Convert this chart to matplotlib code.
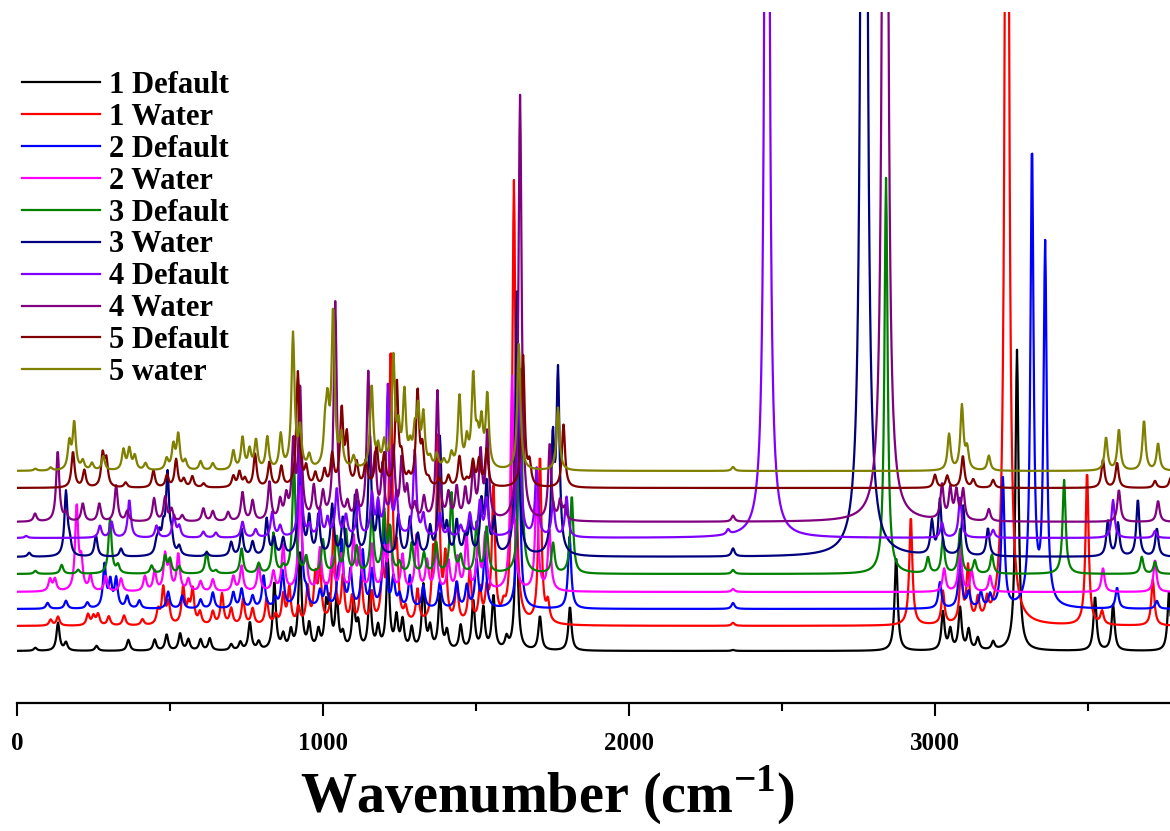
import numpy as np
import matplotlib.pyplot as plt

plt.rcParams['font.family'] = ['Liberation Serif', 'DejaVu Serif']
plt.rcParams['font.weight'] = 'bold'
plt.rcParams['mathtext.fontset'] = 'custom'
plt.rcParams['mathtext.rm'] = 'Liberation Serif:bold'
plt.rcParams['mathtext.bf'] = 'Liberation Serif:bold'

labels = ['1 Default', '1 Water', '2 Default', '2 Water', '3 Default',
          '3 Water', '4 Default', '4 Water', '5 Default', '5 water']
colors = ['#000000', '#ff0000', '#0000ff', '#ff00ff', '#008000',
          '#000080', '#8000ff', '#800080', '#800000', '#808000']
# vertical stacking offset of each trace
offsets = [52, 77, 94, 111, 129, 146, 165, 181, 215, 232]

# peak lists: (wavenumber cm-1, intensity)
black = [(60, 3), (134, 28), (160, 8), (260, 5), (364, 11), (450, 11), (489, 16), (533, 17),
         (560, 11), (600, 11), (630, 12), (700, 6), (730, 8), (761, 28), (790, 8), (841, 68),
         (870, 14), (895, 18), (925, 98), (955, 24), (985, 18), (1010, 41), (1022, 44),
         (1045, 51), (1065, 14), (1100, 46), (1115, 24), (1153, 58), (1180, 21), (1212, 88),
         (1240, 31), (1260, 28), (1290, 21), (1328, 64), (1350, 21), (1382, 54), (1405, 18),
         (1450, 24), (1491, 49), (1524, 41), (1557, 54), (1600, 11), (1632, 130), (1709, 34),
         (1807, 44), (2340, 1), (2873, 94), (3026, 38), (3050, 20), (3082, 42), (3110, 20),
         (3140, 12), (3190, 8), (3268, 301), (3523, 54), (3582, 46), (3765, 60)]
red = [(110, 6), (134, 9), (232, 11), (250, 9), (265, 11), (300, 9), (350, 10), (410, 6),
       (461, 14), (478, 36), (495, 21), (543, 37), (560, 17), (574, 34), (598, 12), (640, 13),
       (670, 31), (700, 16), (739, 26), (770, 16), (816, 26), (845, 9), (870, 29), (890, 36),
       (920, 16), (950, 36), (975, 46), (990, 53), (1035, 100), (1065, 46), (1095, 26),
       (1125, 46), (1160, 29), (1195, 49), (1221, 270), (1241, 63), (1270, 13), (1309, 33),
       (1360, 56), (1376, 179), (1400, 63), (1437, 39), (1480, 53), (1513, 33), (1535, 29),
       (1557, 136), (1590, 11), (1624, 443), (1709, 168), (1735, 19), (2340, 3), (2921, 109),
       (3026, 33), (3085, 50), (3108, 55), (3140, 22), (3170, 18), (3235, 1500), (3497, 154),
       (3546, 13), (3712, 46)]
blue = [(100, 6), (160, 8), (230, 6), (286, 43), (305, 26), (324, 29), (360, 12), (400, 8),
        (494, 17), (540, 13), (600, 9), (640, 16), (707, 16), (734, 19), (770, 12), (806, 32),
        (845, 9), (868, 36), (925, 152), (945, 12), (990, 16), (1010, 22), (1050, 26),
        (1061, 62), (1090, 36), (1130, 56), (1160, 36), (1200, 89), (1230, 29), (1250, 12),
        (1284, 32), (1328, 22), (1382, 26), (1437, 26), (1470, 22), (1502, 46), (1529, 56),
        (1640, 180), (1806, 72), (2340, 6), (3016, 26), (3082, 55), (3110, 15), (3150, 15),
        (3180, 12), (3222, 129), (3317, 460), (3360, 360), (3595, 21), (3725, 8)]
magenta = [(108, 12), (124, 12), (195, 85), (210, 28), (240, 15), (290, 15), (340, 13),
           (418, 15), (450, 20), (484, 35), (498, 25), (527, 37), (560, 12), (600, 10),
           (640, 12), (707, 15), (734, 25), (790, 25), (838, 19), (870, 45), (925, 105),
           (945, 25), (990, 42), (1030, 32), (1060, 35), (1100, 52), (1120, 39), (1160, 45),
           (1200, 39), (1219, 62), (1260, 35), (1306, 55), (1340, 29), (1370, 42), (1410, 29),
           (1440, 32), (1469, 55), (1507, 49), (1530, 55), (1618, 215), (1698, 100),
           (1740, 60), (2340, 3), (3030, 23), (3082, 47), (3120, 20), (3180, 16), (3549, 24),
           (3719, 32)]
green = [(60, 3), (146, 9), (200, 4), (304, 55), (330, 8), (440, 8), (484, 17), (500, 14),
         (530, 7), (620, 22), (650, 3), (734, 25), (790, 10), (838, 40), (870, 6), (905, 110),
         (945, 16), (1000, 33), (1045, 36), (1075, 43), (1110, 26), (1160, 60), (1200, 60),
         (1219, 43), (1250, 10), (1290, 30), (1330, 20), (1370, 30), (1420, 80), (1450, 16),
         (1502, 50), (1535, 46), (1645, 210), (1752, 30), (1813, 78), (2340, 4), (2840, 396),
         (2977, 16), (3026, 35), (3082, 44), (3130, 13), (3186, 19), (3422, 94), (3676, 17),
         (3719, 12)]
navy = [(40, 4), (160, 64), (172, 13), (258, 21), (340, 8), (456, 11), (465, 18), (478, 23),
        (492, 79), (505, 16), (530, 9), (620, 4), (700, 14), (734, 27), (770, 14), (816, 37),
        (840, 17), (870, 17), (925, 127), (955, 37), (985, 40), (1030, 50), (1065, 37),
        (1105, 60), (1153, 120), (1180, 44), (1246, 40), (1284, 37), (1310, 20), (1350, 27),
        (1382, 117), (1405, 27), (1437, 34), (1465, 17), (1480, 30), (1518, 50), (1535, 70),
        (1560, 34), (1634, 264), (1751, 110), (1768, 179), (2340, 8), (2768, 3000),
        (2990, 33), (3016, 55), (3092, 50), (3173, 28), (3565, 36), (3598, 33), (3663, 57),
        (3725, 28)]
violet = [(30, 2), (271, 12), (309, 16), (367, 38), (456, 12), (513, 22), (530, 11), (609, 6),
          (650, 5), (737, 16), (780, 8), (834, 25), (860, 11), (925, 91), (955, 11), (990, 28),
          (1015, 18), (1045, 48), (1075, 21), (1115, 35), (1160, 41), (1180, 31), (1212, 150),
          (1240, 40), (1300, 86), (1328, 21), (1382, 23), (1410, 8), (1450, 11), (1480, 23),
          (1513, 35), (1535, 38), (1640, 170), (1698, 68), (1752, 35), (1796, 40), (2324, 5),
          (2451, 1800), (3023, 15), (3082, 40), (3190, 8), (3582, 38), (3719, 7)]
purple = [(59, 8), (133, 71), (160, 8), (215, 18), (269, 18), (324, 36), (360, 10), (448, 23),
          (484, 24), (505, 12), (540, 6), (609, 13), (640, 10), (690, 9), (737, 29), (770, 20),
          (825, 39), (860, 19), (880, 22), (903, 75), (925, 132), (970, 32), (1000, 25),
          (1040, 218), (1080, 15), (1110, 25), (1148, 144), (1170, 55), (1195, 52), (1230, 70),
          (1257, 59), (1275, 29), (1300, 15), (1330, 22), (1374, 129), (1410, 25), (1437, 32),
          (1465, 29), (1491, 52), (1515, 65), (1537, 87), (1644, 426), (1741, 77), (1775, 19),
          (1790, 12), (2340, 6), (2837, 2300), (3023, 35), (3050, 30), (3070, 28), (3092, 30),
          (3176, 12), (3601, 32), (3729, 21)]
darkred = [(183, 36), (220, 17), (280, 32), (292, 26), (355, 5), (446, 17), (490, 12),
           (520, 28), (545, 8), (573, 11), (610, 4), (707, 11), (727, 15), (745, 8), (778, 33),
           (825, 25), (864, 20), (918, 115), (945, 18), (975, 13), (1005, 16), (1030, 31),
           (1061, 76), (1078, 48), (1110, 23), (1140, 25), (1175, 40), (1200, 30), (1241, 105),
           (1257, 25), (1280, 8), (1309, 95), (1325, 35), (1345, 6), (1380, 8), (1410, 11),
           (1446, 30), (1470, 6), (1490, 25), (1510, 26), (1535, 38), (1654, 131), (1675, 21),
           (1786, 63), (3000, 13), (3040, 12), (3091, 32), (3125, 8), (3190, 8), (3549, 28),
           (3595, 25), (3719, 7), (3770, 10)]
olive = [(60, 2), (110, 3), (171, 27), (187, 47), (215, 9), (245, 7), (282, 14), (348, 20),
         (367, 21), (385, 14), (420, 7), (489, 11), (511, 24), (527, 35), (550, 9), (600, 9),
         (640, 7), (707, 19), (737, 32), (760, 19), (781, 29), (818, 32), (862, 34), (902, 135),
         (925, 38), (955, 13), (1007, 34), (1015, 54), (1033, 156), (1060, 31), (1100, 12),
         (1159, 83), (1180, 19), (1200, 24), (1230, 109), (1247, 34), (1266, 73), (1285, 18),
         (1300, 31), (1311, 54), (1328, 51), (1350, 9), (1372, 14), (1395, 8), (1420, 14),
         (1446, 71), (1470, 26), (1491, 91), (1505, 24), (1518, 43), (1537, 73), (1640, 126),
         (1768, 63), (2340, 4), (3046, 36), (3088, 64), (3105, 20), (3176, 15), (3559, 33),
         (3601, 41), (3683, 50), (3729, 27)]

spectra = [black, red, blue, magenta, green, navy, violet, purple, darkred, olive]

wn = np.arange(0, 3782, 2.0)
hw = 6.0  # lorentzian half width


def broaden(peaks):
    y = np.zeros_like(wn)
    for c, h in peaks:
        y += h * hw**2 / ((wn - c)**2 + hw**2)
    return y


fig = plt.figure(figsize=(11.7, 8.31), dpi=100)
ax = fig.add_axes([17/1170, 1 - 703/831, 1 - 17/1170, (703 - 12)/831])

for peaks, off, col, lab in zip(spectra, offsets, colors, labels):
    ax.plot(wn, broaden(peaks) + off, color=col, lw=1.6, label=lab)

ax.set_xlim(0, 3768)
ax.set_ylim(0, 691)
for s in ['left', 'right', 'top']:
    ax.spines[s].set_visible(False)
ax.spines['bottom'].set_linewidth(1.6)
ax.set_yticks([])
ax.set_xticks([0, 1000, 2000, 3000])
ax.set_xticks([500, 1500, 2500, 3500], minor=True)
ax.tick_params(axis='x', which='major', direction='out', length=9, width=1.5,
               labelsize=18, pad=12)
ax.tick_params(axis='x', which='minor', direction='out', length=6, width=1.5)
for t in ax.get_xticklabels():
    t.set_fontweight('bold')

# axis title sits left of the axes centre in the original
fig.text(548/1170, 1 - 795/831, 'Wavenumber (cm$^{\\mathbf{-1}}$)', fontsize=40.5,
         fontweight='bold', ha='center', va='center')

ax.legend(loc='upper left', bbox_to_anchor=(22/1170, 0.9146), bbox_transform=fig.transFigure,
          frameon=False, handlelength=2.55, handletextpad=0.3,
          labelspacing=0.095, borderpad=0, borderaxespad=0,
          prop={'weight': 'bold', 'size': 22})

fig.savefig('out.png', dpi=100)
